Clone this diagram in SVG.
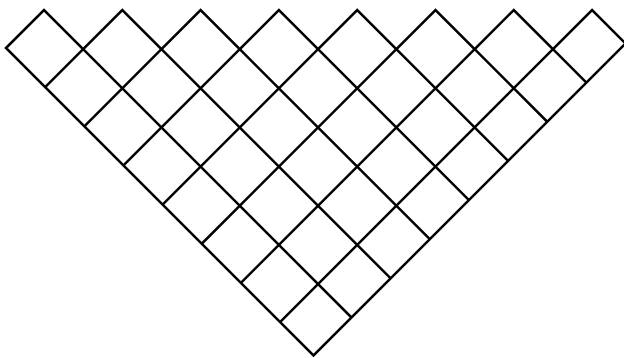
<svg xmlns="http://www.w3.org/2000/svg" width="624" height="358" viewBox="0 0 624 358">
<style>
.g{fill:none;stroke:#000;stroke-width:2.5;stroke-linejoin:miter;stroke-miterlimit:10}
</style>
<rect width="624" height="358" fill="#fff"/>
<g id="grid">
<path class="g" d="M6,48 L44,10 L83.15,49.15 L122.3,10 L161.45,49.15 L200.6,10 L239.75,49.15 L278.9,10 L318.05,49.15 L357.2,10 L396.35,49.15 L435.5,10 L474.65,49.15 L513.8,10 L552.95,49.15 L592.1,10 L625.55,43.45 L313.5,355.5 Z"/>
<path class="g" d="M45.15,87.15 L83.15,49.15 M84.3,126.3 L161.45,49.15 M123.45,165.45 L239.75,49.15 M162.6,204.6 L318.05,49.15 M201.75,243.75 L396.35,49.15 M240.9,282.9 L474.65,49.15 M280.05,322.05 L552.95,49.15"/>
<path class="g" d="M83.15,49.15 L351.5,317.5 M161.45,49.15 L390.65,278.35 M239.75,49.15 L429.8,239.2 M318.05,49.15 L468.95,200.05 M396.35,49.15 L508.1,160.9 M474.65,49.15 L547.25,121.75 M552.95,49.15 L586.4,82.6"/>
</g>
</svg>
